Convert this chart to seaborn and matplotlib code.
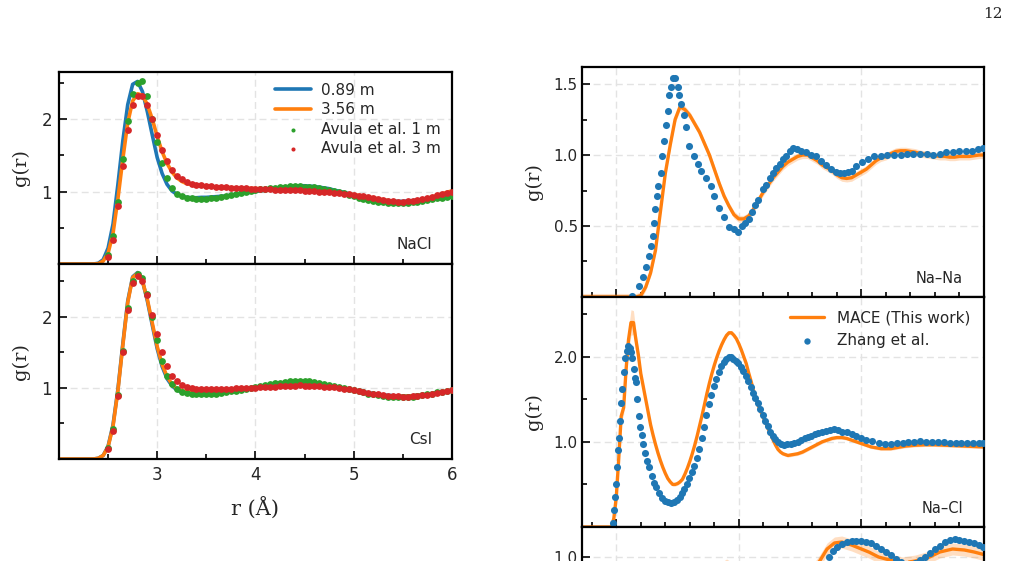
import numpy as np
import seaborn as sns
import matplotlib.pyplot as plt
from matplotlib.ticker import MultipleLocator, FixedLocator

sns.set_theme(style="ticks")
plt.rcParams["font.family"] = ["DejaVu Sans"]

# ── data ───────────────────────────────────────────────────
# left panels: MD lines on a 0.05 Å grid, Avula et al. points from 2.5 Å
r_left = np.round(np.arange(2.0, 6.001, 0.05), 2)
r_avula = np.round(np.arange(2.5, 6.001, 0.05), 2)

nacl_089 = [0, 0, 0, 0, 0, 0, 0, 0, 0.01, 0.06,
            0.22, 0.55, 1.1, 1.7, 2.2, 2.48, 2.52, 2.38, 2.1, 1.78,
            1.47, 1.25, 1.1, 1.01, 0.96, 0.935, 0.92, 0.915, 0.915, 0.92,
            0.92, 0.925, 0.93, 0.935, 0.94, 0.95, 0.96, 0.97, 0.98, 0.99,
            1.0, 1.01, 1.02, 1.03, 1.04, 1.05, 1.06, 1.07, 1.075, 1.08,
            1.08, 1.075, 1.07, 1.06, 1.05, 1.04, 1.02, 1.005, 0.99, 0.97,
            0.955, 0.94, 0.925, 0.91, 0.9, 0.89, 0.88, 0.875, 0.87, 0.865,
            0.865, 0.87, 0.875, 0.88, 0.89, 0.9, 0.91, 0.92, 0.93, 0.94,
            0.95]
nacl_356 = [0, 0, 0, 0, 0, 0, 0, 0, 0.005, 0.04,
            0.15, 0.42, 0.9, 1.45, 1.95, 2.25, 2.35, 2.33, 2.2, 2.0,
            1.76, 1.55, 1.39, 1.27, 1.19, 1.14, 1.11, 1.095, 1.085, 1.08,
            1.075, 1.07, 1.065, 1.06, 1.058, 1.055, 1.052, 1.05, 1.047, 1.045,
            1.042, 1.04, 1.038, 1.035, 1.032, 1.03, 1.027, 1.025, 1.022, 1.02,
            1.017, 1.013, 1.01, 1.005, 1.0, 0.995, 0.99, 0.983, 0.975, 0.967,
            0.958, 0.948, 0.937, 0.925, 0.913, 0.9, 0.888, 0.876, 0.866, 0.86,
            0.858, 0.86, 0.866, 0.876, 0.89, 0.906, 0.925, 0.945, 0.968, 0.99,
            1.01]
nacl_avula1 = [0.12, 0.38, 0.85, 1.45, 1.98, 2.35, 2.5, 2.52, 2.32, 2.0,
               1.68, 1.4, 1.19, 1.05, 0.97, 0.935, 0.915, 0.905, 0.9, 0.9,
               0.9, 0.905, 0.91, 0.92, 0.935, 0.95, 0.97, 0.985, 1.0, 1.01,
               1.02, 1.03, 1.04, 1.05, 1.055, 1.06, 1.065, 1.07, 1.07, 1.07,
               1.068, 1.065, 1.06, 1.05, 1.04, 1.025, 1.01, 0.995, 0.975, 0.955,
               0.935, 0.915, 0.9, 0.885, 0.872, 0.862, 0.854, 0.848, 0.845, 0.843,
               0.843, 0.846, 0.852, 0.86, 0.87, 0.882, 0.895, 0.908, 0.918, 0.926,
               0.932]
nacl_avula3 = [0.1, 0.33, 0.8, 1.35, 1.85, 2.2, 2.32, 2.32, 2.2, 2.0,
               1.78, 1.58, 1.42, 1.3, 1.22, 1.17, 1.135, 1.11, 1.095, 1.085,
               1.078, 1.072, 1.067, 1.062, 1.058, 1.054, 1.05, 1.047, 1.044, 1.041,
               1.038, 1.035, 1.032, 1.03, 1.027, 1.024, 1.022, 1.02, 1.018, 1.015,
               1.012, 1.009, 1.005, 1.0, 0.995, 0.99, 0.984, 0.977, 0.97, 0.962,
               0.953, 0.943, 0.932, 0.92, 0.908, 0.896, 0.884, 0.874, 0.866, 0.861,
               0.86, 0.863, 0.87, 0.88, 0.893, 0.91, 0.928, 0.948, 0.968, 0.985,
               1.0]

csi_089 = [0, 0, 0, 0, 0, 0, 0, 0, 0.01, 0.05,
           0.18, 0.48, 0.98, 1.62, 2.22, 2.56, 2.62, 2.5, 2.22, 1.88,
           1.55, 1.3, 1.13, 1.03, 0.97, 0.94, 0.93, 0.925, 0.92, 0.92,
           0.925, 0.93, 0.935, 0.94, 0.95, 0.96, 0.97, 0.98, 0.99, 1.0,
           1.01, 1.02, 1.03, 1.04, 1.05, 1.06, 1.07, 1.075, 1.08, 1.08,
           1.075, 1.07, 1.06, 1.05, 1.04, 1.03, 1.02, 1.0, 0.99, 0.975,
           0.96, 0.95, 0.94, 0.93, 0.92, 0.91, 0.9, 0.895, 0.89, 0.885,
           0.885, 0.885, 0.89, 0.895, 0.9, 0.91, 0.92, 0.93, 0.94, 0.95,
           0.96]
csi_356 = [0, 0, 0, 0, 0, 0, 0, 0, 0.01, 0.05,
           0.17, 0.46, 0.96, 1.6, 2.2, 2.55, 2.61, 2.5, 2.24, 1.91,
           1.58, 1.33, 1.16, 1.05, 0.99, 0.96, 0.95, 0.945, 0.94, 0.94,
           0.945, 0.95, 0.955, 0.96, 0.965, 0.97, 0.975, 0.98, 0.985, 0.99,
           1.0, 1.005, 1.01, 1.02, 1.025, 1.03, 1.035, 1.04, 1.045, 1.05,
           1.05, 1.045, 1.04, 1.035, 1.025, 1.015, 1.005, 0.995, 0.985, 0.972,
           0.96, 0.948, 0.936, 0.924, 0.912, 0.902, 0.894, 0.888, 0.884, 0.882,
           0.882, 0.884, 0.888, 0.894, 0.9, 0.908, 0.918, 0.93, 0.942, 0.955,
           0.968]
csi_avula1 = [0.15, 0.42, 0.9, 1.52, 2.12, 2.5, 2.6, 2.55, 2.32, 2.0,
              1.67, 1.38, 1.17, 1.05, 0.98, 0.945, 0.93, 0.92, 0.915, 0.912,
              0.912, 0.915, 0.92, 0.928, 0.938, 0.95, 0.962, 0.975, 0.988, 1.0,
              1.012, 1.025, 1.037, 1.05, 1.062, 1.074, 1.085, 1.093, 1.098, 1.1,
              1.098, 1.092, 1.083, 1.07, 1.055, 1.04, 1.025, 1.01, 0.995, 0.98,
              0.965, 0.95, 0.935, 0.92, 0.907, 0.896, 0.886, 0.878, 0.873, 0.87,
              0.87, 0.872, 0.877, 0.885, 0.895, 0.907, 0.92, 0.935, 0.948, 0.958,
              0.965]
csi_avula3 = [0.14, 0.4, 0.88, 1.5, 2.1, 2.48, 2.57, 2.5, 2.3, 2.02,
              1.75, 1.5, 1.3, 1.17, 1.09, 1.04, 1.01, 0.995, 0.985, 0.98,
              0.978, 0.978, 0.98, 0.982, 0.985, 0.988, 0.991, 0.994, 0.997, 1.0,
              1.003, 1.006, 1.01, 1.014, 1.018, 1.022, 1.026, 1.03, 1.032, 1.033,
              1.032, 1.03, 1.027, 1.023, 1.018, 1.012, 1.005, 0.997, 0.988, 0.978,
              0.967, 0.955, 0.943, 0.93, 0.918, 0.907, 0.897, 0.889, 0.883, 0.879,
              0.877, 0.877, 0.88, 0.885, 0.893, 0.903, 0.915, 0.928, 0.942, 0.957,
              0.97]

# right panels: MACE lines and Zhang et al. points, (r, g) pairs
r_nana_mace = np.round(np.arange(1.8, 10.001, 0.1), 1)
nana_mace = [0, 0, 0, 0, 0, 0, 0, 0, 0, 0,
             0, 0, 0.01, 0.07, 0.17, 0.33, 0.6, 0.87, 1.07, 1.25,
             1.34, 1.32, 1.28, 1.22, 1.16, 1.08, 1.0, 0.9, 0.8, 0.71,
             0.64, 0.58, 0.55, 0.55, 0.57, 0.62, 0.68, 0.74, 0.79, 0.84,
             0.88, 0.92, 0.95, 0.97, 0.99, 1.0, 1.0, 0.98, 0.96, 0.93,
             0.91, 0.89, 0.86, 0.84, 0.835, 0.84, 0.86, 0.88, 0.9, 0.93,
             0.96, 0.98, 0.99, 1.01, 1.025, 1.03, 1.03, 1.025, 1.02, 1.01,
             1.005, 1.0, 0.995, 0.99, 0.99, 0.985, 0.985, 0.99, 0.99, 0.99,
             0.995, 1.0, 1.0]

nana_zhang = [
    (2.83, 0.01), (2.97, 0.08), (3.04, 0.14), (3.11, 0.21), (3.17, 0.29),
    (3.20, 0.36), (3.25, 0.43), (3.27, 0.52), (3.30, 0.62), (3.34, 0.71),
    (3.36, 0.78), (3.41, 0.87), (3.44, 0.99), (3.48, 1.10), (3.51, 1.21),
    (3.55, 1.31), (3.58, 1.42), (3.62, 1.48), (3.65, 1.54), (3.70, 1.54),
    (3.75, 1.48), (3.78, 1.42), (3.82, 1.36), (3.88, 1.28), (3.92, 1.20),
    (3.99, 1.06), (4.09, 0.99), (4.16, 0.94), (4.23, 0.89), (4.33, 0.84),
    (4.43, 0.78), (4.50, 0.71), (4.60, 0.63), (4.70, 0.56), (4.80, 0.49),
    (4.90, 0.48), (4.98, 0.46), (5.06, 0.50), (5.13, 0.52), (5.20, 0.55),
    (5.27, 0.60), (5.33, 0.65), (5.40, 0.68), (5.50, 0.76), (5.56, 0.79),
    (5.63, 0.84), (5.69, 0.87), (5.76, 0.91), (5.83, 0.94), (5.90, 0.97),
    (5.97, 0.99), (6.04, 1.03), (6.10, 1.05), (6.18, 1.04), (6.27, 1.03),
    (6.37, 1.02), (6.47, 1.00), (6.58, 0.99), (6.68, 0.96), (6.78, 0.93),
    (6.88, 0.90), (6.98, 0.88), (7.07, 0.87), (7.14, 0.87), (7.22, 0.88),
    (7.30, 0.89), (7.40, 0.92), (7.52, 0.95), (7.63, 0.97), (7.76, 0.99),
    (7.90, 0.99), (8.03, 1.00), (8.17, 1.00), (8.30, 1.00), (8.43, 1.005),
    (8.56, 1.005), (8.70, 1.01), (8.84, 1.005), (8.97, 1.00), (9.10, 1.01),
    (9.23, 1.02), (9.36, 1.02), (9.50, 1.025), (9.63, 1.025), (9.76, 1.03),
    (9.88, 1.04), (9.98, 1.05),
]

# Na–Cl MACE: (r, g, half-width of shaded band)
nacl_mace = [
    (1.8, 0, 0), (2.4, 0, 0), (2.45, 0.1, 0.02), (2.5, 0.35, 0.03),
    (2.55, 0.8, 0.05), (2.6, 1.3, 0.07), (2.65, 1.4, 0.08), (2.7, 1.85, 0.1),
    (2.75, 2.2, 0.13), (2.8, 2.4, 0.15), (2.85, 2.4, 0.14), (2.9, 2.2, 0.1),
    (2.95, 2.02, 0.07), (3.0, 1.8, 0.05), (3.05, 1.65, 0.04), (3.1, 1.5, 0.03),
    (3.15, 1.35, 0.03), (3.2, 1.2, 0.02), (3.25, 1.08, 0.02), (3.3, 0.97, 0.02),
    (3.35, 0.87, 0.02), (3.4, 0.78, 0.02), (3.45, 0.7, 0.02), (3.5, 0.63, 0.02),
    (3.55, 0.57, 0.02), (3.6, 0.53, 0.02), (3.65, 0.5, 0.02), (3.7, 0.5, 0.02),
    (3.75, 0.51, 0.02), (3.8, 0.53, 0.02), (3.85, 0.56, 0.02), (3.9, 0.62, 0.02),
    (3.95, 0.69, 0.02), (4.0, 0.77, 0.02), (4.05, 0.86, 0.02), (4.1, 0.96, 0.02),
    (4.15, 1.07, 0.02), (4.2, 1.19, 0.02), (4.25, 1.31, 0.02), (4.3, 1.44, 0.02),
    (4.35, 1.57, 0.02), (4.4, 1.69, 0.02), (4.45, 1.8, 0.02), (4.5, 1.9, 0.02),
    (4.55, 1.99, 0.02), (4.6, 2.07, 0.02), (4.65, 2.14, 0.02), (4.7, 2.2, 0.02),
    (4.75, 2.25, 0.02), (4.8, 2.28, 0.02), (4.85, 2.28, 0.02), (4.9, 2.25, 0.02),
    (4.95, 2.21, 0.02), (5.0, 2.15, 0.02), (5.05, 2.08, 0.02), (5.1, 2.0, 0.02),
    (5.15, 1.92, 0.02), (5.2, 1.81, 0.02), (5.25, 1.71, 0.02), (5.3, 1.6, 0.02),
    (5.35, 1.5, 0.02), (5.4, 1.42, 0.02), (5.45, 1.35, 0.02), (5.5, 1.28, 0.02),
    (5.55, 1.22, 0.02), (5.6, 1.15, 0.02), (5.65, 1.09, 0.02), (5.7, 1.02, 0.02),
    (5.75, 0.96, 0.02), (5.8, 0.91, 0.02), (5.85, 0.88, 0.02), (5.9, 0.86, 0.02),
    (5.95, 0.85, 0.02), (6.0, 0.84, 0.02), (6.1, 0.85, 0.02), (6.2, 0.86, 0.02),
    (6.3, 0.88, 0.02), (6.4, 0.91, 0.02), (6.5, 0.94, 0.02), (6.6, 0.97, 0.02),
    (6.7, 1.0, 0.02), (6.8, 1.02, 0.02), (6.9, 1.04, 0.02), (7.0, 1.05, 0.02),
    (7.1, 1.05, 0.02), (7.2, 1.04, 0.02), (7.3, 1.02, 0.02), (7.4, 1.0, 0.02),
    (7.5, 0.98, 0.02), (7.6, 0.96, 0.02), (7.7, 0.94, 0.02), (7.8, 0.93, 0.02),
    (7.9, 0.92, 0.02), (8.0, 0.92, 0.02), (8.1, 0.92, 0.02), (8.2, 0.93, 0.02),
    (8.3, 0.94, 0.02), (8.4, 0.95, 0.02), (8.5, 0.955, 0.02), (8.6, 0.96, 0.02),
    (8.8, 0.965, 0.02), (9.0, 0.965, 0.02), (9.2, 0.96, 0.02), (9.4, 0.955, 0.02),
    (9.6, 0.95, 0.02), (9.8, 0.945, 0.02), (10.0, 0.94, 0.02),
]

nacl_zhang = [
    (2.44, 0.05), (2.46, 0.2), (2.48, 0.35), (2.50, 0.5), (2.52, 0.7),
    (2.54, 0.9), (2.56, 1.05), (2.58, 1.25), (2.60, 1.45), (2.62, 1.62),
    (2.65, 1.82), (2.68, 1.98), (2.71, 2.07), (2.74, 2.12), (2.77, 2.1),
    (2.80, 2.05), (2.83, 1.98), (2.86, 1.85), (2.88, 1.75), (2.90, 1.7),
    (2.93, 1.5), (2.96, 1.3), (2.99, 1.17), (3.02, 1.08), (3.05, 0.98),
    (3.09, 0.87), (3.13, 0.78), (3.17, 0.7), (3.22, 0.6), (3.27, 0.52),
    (3.32, 0.47), (3.38, 0.4), (3.44, 0.34), (3.50, 0.31), (3.56, 0.29),
    (3.62, 0.28), (3.68, 0.29), (3.74, 0.32), (3.79, 0.35), (3.84, 0.4),
    (3.89, 0.45), (3.94, 0.5), (3.99, 0.57), (4.04, 0.64), (4.09, 0.72),
    (4.14, 0.81), (4.19, 0.92), (4.24, 1.04), (4.29, 1.17), (4.34, 1.32),
    (4.39, 1.44), (4.44, 1.55), (4.49, 1.65), (4.54, 1.74), (4.59, 1.82),
    (4.64, 1.89), (4.69, 1.94), (4.74, 1.97), (4.79, 1.99), (4.84, 1.99),
    (4.89, 1.97), (4.94, 1.95), (4.99, 1.92), (5.04, 1.88), (5.09, 1.83),
    (5.14, 1.77), (5.19, 1.71), (5.24, 1.64), (5.29, 1.57), (5.34, 1.51),
    (5.39, 1.45), (5.44, 1.39), (5.49, 1.32), (5.54, 1.25), (5.59, 1.18),
    (5.64, 1.12), (5.69, 1.07), (5.74, 1.03), (5.79, 1.0), (5.85, 0.98),
    (5.92, 0.96), (5.99, 0.97), (6.06, 0.98), (6.13, 0.99), (6.2, 1.0),
    (6.27, 1.02), (6.34, 1.04), (6.41, 1.06), (6.48, 1.07), (6.55, 1.09),
    (6.62, 1.1), (6.7, 1.12), (6.78, 1.13), (6.86, 1.14), (6.94, 1.15),
    (7.02, 1.14), (7.1, 1.12), (7.2, 1.11), (7.3, 1.09), (7.4, 1.07),
    (7.5, 1.04), (7.6, 1.02), (7.72, 1.01), (7.85, 0.99), (7.98, 0.98),
    (8.1, 0.98), (8.22, 0.99), (8.34, 0.99), (8.46, 0.995), (8.58, 1.0),
    (8.7, 1.005), (8.82, 1.0), (8.94, 1.0), (9.06, 0.995), (9.18, 0.995),
    (9.3, 0.99), (9.42, 0.99), (9.54, 0.99), (9.66, 0.985), (9.78, 0.985),
    (9.9, 0.985), (9.98, 0.985),
]

# third pair (panel cut off at the page edge)
third_mace = [
    (1.8, 0), (3.0, 0), (3.3, 0.1), (3.6, 0.4), (3.9, 0.7), (4.2, 0.85),
    (4.5, 0.92), (4.75, 0.96), (5.0, 0.92), (5.4, 0.82), (5.8, 0.74),
    (6.2, 0.82), (6.5, 0.93), (6.65, 0.98), (6.8, 1.04), (6.95, 1.07),
    (7.1, 1.075), (7.3, 1.06), (7.5, 1.04), (7.66, 1.024), (7.85, 1.0),
    (8.0, 0.99), (8.34, 0.97), (8.6, 0.98), (8.89, 1.0), (9.1, 1.025),
    (9.36, 1.04), (9.6, 1.035), (9.8, 1.025), (10.0, 1.012),
]
third_zhang = [
    (2.8, 0.0), (3.2, 0.05), (3.5, 0.3), (3.9, 0.6), (4.3, 0.8), (4.8, 0.9),
    (5.3, 0.85), (5.8, 0.78), (6.2, 0.84), (6.5, 0.92), (6.7, 0.96),
    (6.84, 1.0), (6.92, 1.03), (7.0, 1.05), (7.1, 1.065), (7.2, 1.075),
    (7.3, 1.08), (7.4, 1.08), (7.5, 1.08), (7.6, 1.075), (7.7, 1.07),
    (7.8, 1.055), (7.9, 1.04), (8.0, 1.025), (8.1, 1.01), (8.2, 0.99),
    (8.3, 0.975), (8.4, 0.965), (8.5, 0.96), (8.6, 0.97), (8.7, 0.985),
    (8.8, 1.0), (8.9, 1.02), (9.0, 1.04), (9.1, 1.055), (9.2, 1.075),
    (9.3, 1.085), (9.4, 1.09), (9.5, 1.085), (9.6, 1.08), (9.7, 1.075),
    (9.8, 1.07), (9.9, 1.06), (9.98, 1.05),
]

BLUE, ORANGE, GREEN, RED = "#1f77b4", "#ff7f0e", "#2ca02c", "#d62728"
SERIF = "DejaVu Serif"


def style_axis(ax, xmajor, xminor, ymajor, yminor, size):
    ax.xaxis.set_major_locator(FixedLocator(xmajor))
    ax.xaxis.set_minor_locator(MultipleLocator(xminor))
    ax.yaxis.set_major_locator(FixedLocator(ymajor))
    ax.yaxis.set_minor_locator(MultipleLocator(yminor))
    ax.tick_params(which="both", direction="in", width=1.4, labelsize=size,
                   top=False, right=False, pad=5)
    ax.tick_params(which="major", length=6)
    ax.tick_params(which="minor", length=3.5)
    ax.grid(True, which="major", ls=(0, (5, 3)), color="#e3e3e3", lw=1.0)
    for sp in ax.spines.values():
        sp.set_visible(True)
        sp.set_linewidth(1.6)
        sp.set_color("black")
    ax.set_xlabel("")
    ax.set_ylabel("g(r)", family=SERIF, fontsize=14, labelpad=8)


fig = plt.figure(figsize=(10.1, 5.61), dpi=100)

# ── left: NaCl and CsI ─────────────────────────────────────
ax_nacl = fig.add_axes([0.0584, 0.5294, 0.389, 0.3422])
ax_csi = fig.add_axes([0.0584, 0.1818, 0.389, 0.3476], sharex=ax_nacl)

left_sets = [
    (ax_nacl, nacl_089, nacl_356, nacl_avula1, nacl_avula3, "NaCl", 2.65),
    (ax_csi, csi_089, csi_356, csi_avula1, csi_avula3, "CsI", 2.74),
]
for ax, g1, g3, a1, a3, name, ytop in left_sets:
    labels = ax is ax_nacl
    sns.lineplot(x=r_left, y=g1, ax=ax, color=BLUE, lw=2.6,
                 label="0.89 m" if labels else None, legend=False)
    sns.lineplot(x=r_left, y=g3, ax=ax, color=ORANGE, lw=2.6,
                 label="3.56 m" if labels else None, legend=False)
    sns.scatterplot(x=r_avula, y=a1, ax=ax, color=GREEN, s=24, linewidth=0,
                    label="Avula et al. 1 m" if labels else None,
                    legend=False, zorder=3)
    sns.scatterplot(x=r_avula, y=a3, ax=ax, color=RED, s=24, linewidth=0,
                    label="Avula et al. 3 m" if labels else None,
                    legend=False, zorder=4)
    ax.set_xlim(2.0, 6.0)
    ax.set_ylim(0, ytop)
    style_axis(ax, [3, 4, 5, 6], 0.5, [1, 2], 0.5, 12)
    ax.text(0.95, 0.1, name, transform=ax.transAxes, ha="right",
            va="center", fontsize=11)

ax_nacl.tick_params(labelbottom=False)
ax_csi.set_xlabel("r (Å)", family=SERIF, fontsize=15, labelpad=9)
ax_nacl.legend(loc="upper right", frameon=False, fontsize=11,
               handlelength=2.35, handletextpad=0.65, markerscale=0.6,
               labelspacing=0.3, borderaxespad=0.3)

# ── right: ion pairs vs Zhang et al. ───────────────────────
ax_nana = fig.add_axes([0.5762, 0.4706, 0.398, 0.41])
ax_nacl_p = fig.add_axes([0.5762, 0.0606, 0.398, 0.41], sharex=ax_nana)
ax_third = fig.add_axes([0.5762, -0.3494, 0.398, 0.41], sharex=ax_nana)

r_nacl_m, g_nacl_m, e_nacl_m = np.array(nacl_mace).T
r_third_m, g_third_m = np.array(third_mace).T
right_sets = [
    (ax_nana, r_nana_mace, np.array(nana_mace), 0.025, nana_zhang,
     "Na–Na", 1.62, [0.5, 1.0, 1.5], 0.25),
    (ax_nacl_p, r_nacl_m, g_nacl_m, e_nacl_m, nacl_zhang,
     "Na–Cl", 2.7, [1.0, 2.0], 0.5),
    (ax_third, r_third_m, g_third_m, 0.03, third_zhang,
     None, 1.15, [0.5, 1.0], 0.25),
]
for ax, rm, gm, em, zh, name, ytop, yt, ymin in right_sets:
    labels = ax is ax_nacl_p
    rz, gz = np.array(zh).T
    ax.fill_between(rm, gm - em, gm + em, color=ORANGE, alpha=0.25, lw=0)
    sns.lineplot(x=rm, y=gm, ax=ax, color=ORANGE, lw=2.4,
                 label="MACE (This work)" if labels else None, legend=False)
    sns.scatterplot(x=rz, y=gz, ax=ax, color=BLUE, s=26, linewidth=0,
                    label="Zhang et al." if labels else None,
                    legend=False, zorder=3)
    ax.set_xlim(1.8, 10.0)
    ax.set_ylim(0, ytop)
    style_axis(ax, [2.5, 5.0, 7.5, 10.0], 0.5, yt, ymin, 11)
    ax.yaxis.set_major_formatter(plt.FormatStrFormatter("%.1f"))
    ax.tick_params(labelbottom=False, pad=3)
    if name:
        ax.text(0.948, 0.08, name, transform=ax.transAxes, ha="right",
                va="center", fontsize=10.5)

ax_nacl_p.legend(loc="upper right", frameon=False, fontsize=11,
                 handlelength=2.2, handletextpad=0.85, markerscale=0.9,
                 labelspacing=0.45, borderaxespad=0.5)

fig.text(0.993, 0.987, "12", ha="right", va="top", family=SERIF, fontsize=11)

fig.savefig("out.png", dpi=100)
